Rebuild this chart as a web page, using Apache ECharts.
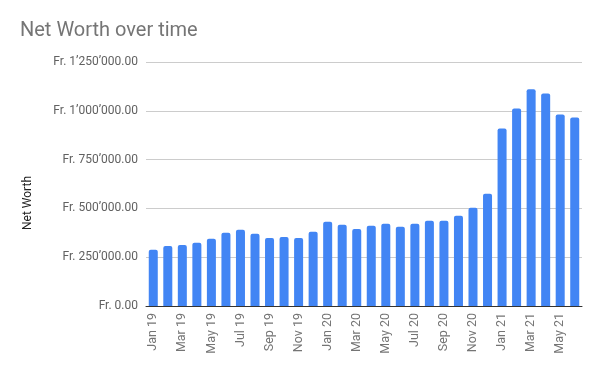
<!DOCTYPE html>
<html><head><meta charset="utf-8">
<script src="https://cdn.jsdelivr.net/npm/echarts@6/dist/echarts.min.js"></script>
<style>html,body{margin:0;padding:0;background:#fff}#c{width:600px;height:371px}</style>
</head><body><div id="c"></div>
<script>
const categories = ["Jan 19","Feb 19","Mar 19","Apr 19","May 19","Jun 19","Jul 19","Aug 19","Sep 19","Oct 19","Nov 19","Dec 19",
  "Jan 20","Feb 20","Mar 20","Apr 20","May 20","Jun 20","Jul 20","Aug 20","Sep 20","Oct 20","Nov 20","Dec 20",
  "Jan 21","Feb 21","Mar 21","Apr 21","May 21","Jun 21"];
const netWorth = [288000,308000,313000,324000,344000,375000,390000,370000,349000,354000,349000,380000,
  431000,416000,394000,411000,421000,406000,421000,437000,437000,462000,503000,575000,
  909000,1012000,1110000,1089000,981000,966000];
const yTicks = [0,250000,500000,750000,1000000,1250000];
const yAxisTitle = "Net Worth";

function fmt(v){
  const s = Math.round(v).toString().replace(/\B(?=(\d{3})+(?!\d))/g, "\u2019");
  return "Fr. " + s + ".00";
}
const chart = echarts.init(document.getElementById('c'), null, {renderer:'canvas'});
chart.setOption({
  animation:false,
  title:{text:"Net Worth over time", left:15, top:16,
    textStyle:{fontFamily:"Roboto", fontSize:20, fontWeight:"normal", color:"#757575"}},
  graphic:[{type:'text', x:28, y:203, rotation:Math.PI/2,
    style:{text:yAxisTitle, fill:"#222", font:"12px Roboto", textAlign:'center', textVerticalAlign:'middle'}}],
  grid:{left:146, right:18, top:62, bottom:65, containLabel:false},
  xAxis:{type:'category', data:categories,
    axisLine:{lineStyle:{color:"#333", width:1}},
    axisTick:{show:false},
    axisLabel:{rotate:90, interval:1, margin:7, color:"#757575", fontFamily:"Roboto", fontSize:12.5}},
  yAxis:{type:'value', min:yTicks[0], max:yTicks[yTicks.length-1], interval:250000,
    axisLine:{show:false}, axisTick:{show:false},
    splitLine:{lineStyle:{color:"#cccccc"}},
    axisLabel:{formatter:fmt, margin:8, color:"#616161", fontFamily:"Roboto", fontSize:12}},
  series:[{type:'bar', data:netWorth, barWidth:'62%',
    itemStyle:{color:"#4285F4", borderRadius:[2,2,0,0]}}]
});
</script></body></html>
